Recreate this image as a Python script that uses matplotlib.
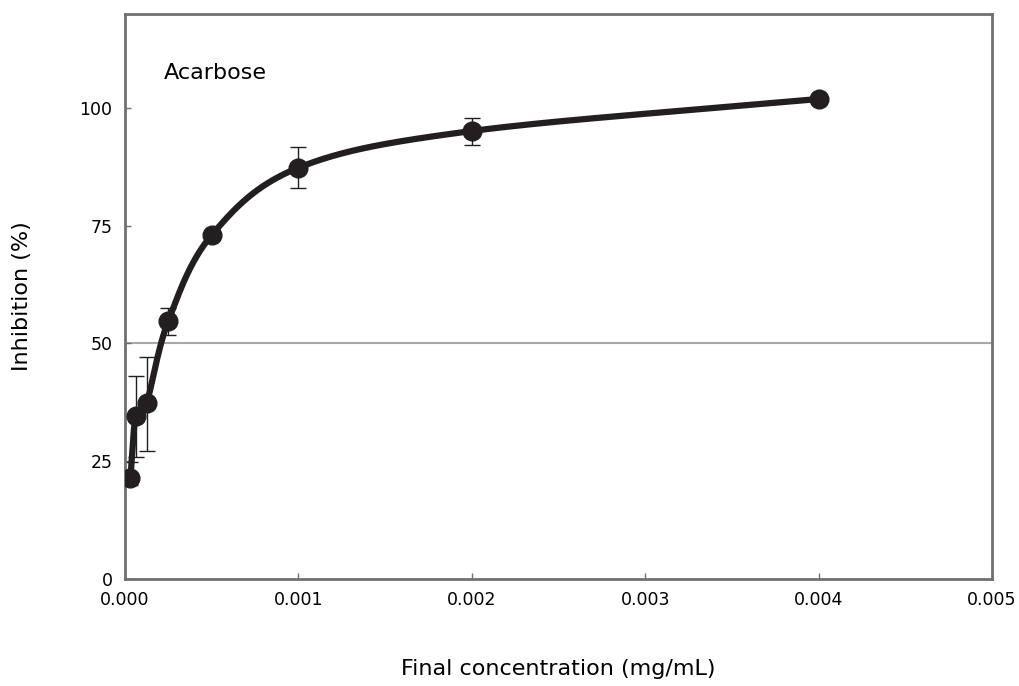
import matplotlib
matplotlib.use("Agg")
import matplotlib.pyplot as plt
import numpy as np

conc = [0.00003125, 0.0000625, 0.000125, 0.00025, 0.0005, 0.001, 0.002, 0.004]
inhibition = [21.4, 34.6, 37.4, 54.8, 73.0, 87.3, 95.1, 101.9]
err_lo = [1.5, 8.8, 10.2, 3.1, 0.0, 4.2, 3.0, 0.0]
err_hi = [3.5, 8.5, 9.7, 2.8, 0.0, 4.3, 2.8, 0.0]

xmax, ymax = 0.005, 120


def smooth(xs, ys, n=60):
    # catmull-rom through the points, in axis-normalised space
    px = np.array(xs) / xmax
    py = np.array(ys) / ymax
    px = np.concatenate([[2 * px[0] - px[1]], px, [2 * px[-1] - px[-2]]])
    py = np.concatenate([[2 * py[0] - py[1]], py, [2 * py[-1] - py[-2]]])
    outx, outy = [], []
    t = np.linspace(0, 1, n)
    for i in range(1, len(px) - 2):
        for arr, out in ((px, outx), (py, outy)):
            p0, p1, p2, p3 = arr[i - 1:i + 3]
            out.extend(0.5 * ((2 * p1) + (-p0 + p2) * t
                              + (2 * p0 - 5 * p1 + 4 * p2 - p3) * t ** 2
                              + (-p0 + 3 * p1 - 3 * p2 + p3) * t ** 3))
    return np.array(outx) * xmax, np.array(outy) * ymax


fig = plt.figure(figsize=(10.2, 6.86), dpi=100)
ax = fig.add_axes([0.1225, 0.156, 0.85, 0.824])

ax.axhline(50, color="#a8a8a8", lw=1.5, zorder=1)

sx, sy = smooth(conc, inhibition)
ax.plot(sx, sy, color="#231f20", lw=4.5, zorder=3, solid_capstyle="round")
ax.errorbar(conc, inhibition, yerr=[err_lo, err_hi], fmt="none",
            ecolor="#231f20", elinewidth=1.0, capsize=5.5, capthick=1.0,
            zorder=2)
ax.plot(conc, inhibition, "o", color="#231f20", ms=13.5, zorder=4)

ax.set_xlim(0, xmax)
ax.set_ylim(0, ymax)
ax.set_xticks([0, 0.001, 0.002, 0.003, 0.004, 0.005])
ax.set_xticklabels(["0.000", "0.001", "0.002", "0.003", "0.004", "0.005"])
ax.set_yticks([0, 25, 50, 75, 100])
ax.tick_params(direction="in", length=4, width=1, color="#707070",
               labelsize=12.5, pad=9)

for s in ax.spines.values():
    s.set_color("#707070")
    s.set_linewidth(2)

ax.text(0.000225, 107.5, "Acarbose", fontsize=16, va="center")
ax.set_xlabel("Final concentration (mg/mL)", fontsize=16, va="top")
ax.set_ylabel("Inhibition (%)", fontsize=16)
ax.xaxis.set_label_coords(0.5, -0.141)
ax.yaxis.set_label_coords(-0.107, 0.5)

fig.savefig("out.png", dpi=100)
